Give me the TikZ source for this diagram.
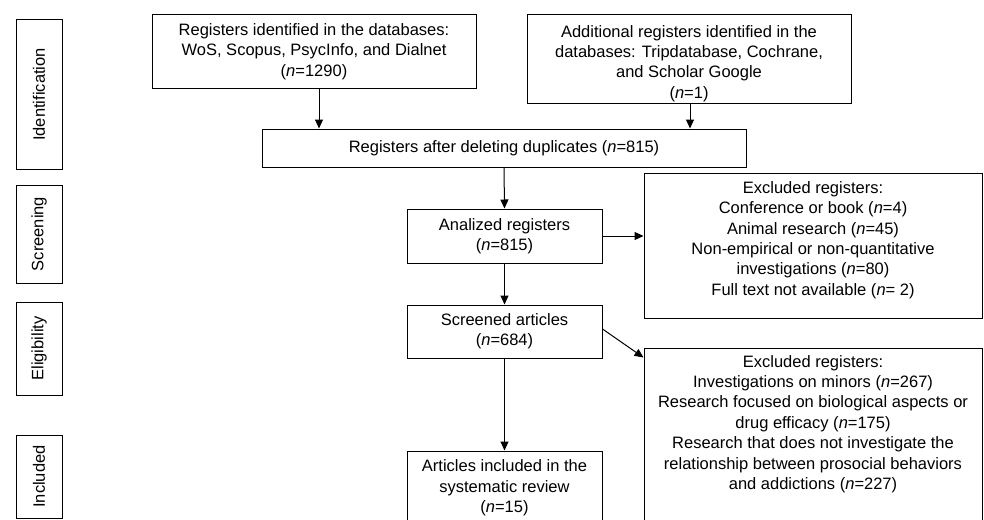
\documentclass[tikz,border=0pt]{standalone}
\usepackage{fontspec}
\setmainfont{Liberation Sans}
\usetikzlibrary{arrows.meta}
\begin{document}
\begin{tikzpicture}[x=1pt,y=-1pt,
  box/.style={draw, line width=1pt, inner sep=0pt, align=center,
    font=\fontsize{16.5}{20.4}\selectfont},
  txt/.style={inner sep=0pt, align=center, font=\fontsize{16.5}{20.4}\selectfont},
  side/.style={draw, line width=1pt, inner sep=0pt, minimum width=46pt,
    font=\fontsize{16.5}{20.4}\selectfont},
  arr/.style={line width=1pt, -{Triangle[length=9pt,width=8pt]}}]
\useasboundingbox (0,0) rectangle (984,519);
\clip (0,0) rectangle (984,519);
% phase labels
\node[side, minimum height=149pt] (id) at (39,94.5) {};
\node[txt, rotate=90] (idt) at (id.center) {Identification};
\node[side, minimum height=98pt] (sc) at (39,234) {};
\node[txt, rotate=90] (sct) at (sc.center) {Screening};
\node[side, minimum height=93pt] (el) at (39,348.5) {};
\node[txt, rotate=90] (elt) at (el.center) {Eligibility};
\node[side, minimum height=83pt] (in) at (39,476.5) {};
\node[txt, rotate=90] (int) at (in.center) {Included};
% boxes
\node[box, minimum width=324pt, minimum height=73pt] (A) at (314,51.5)
  {Registers identified in the databases:\\WoS, Scopus, PsycInfo, and Dialnet\\(\textit{n}=1290)};
\node[box, minimum width=324pt, minimum height=88pt] (B) at (689,59) {};
\node[txt] (Bt) at (689,63.5)
  {Additional registers identified in the\\databases: Tripdatabase, Cochrane,\\and Scholar Google\\(\textit{n}=1)};
\node[box, minimum width=484pt, minimum height=38pt] (C) at (504,148)
  {Registers after deleting duplicates (\textit{n}=815)};
\node[box, minimum width=195pt, minimum height=54pt] (D) at (504.5,236)
  {Analized registers\\(\textit{n}=815)};
\node[box, minimum width=338pt, minimum height=145pt] (E) at (813,245.5) {};
\node[txt] (Et) at (813,240)
  {Excluded registers:\\Conference or book (\textit{n}=4)\\Animal research (\textit{n}=45)\\Non-empirical or non-quantitative\\investigations (\textit{n}=80)\\Full text not available (\textit{n}= 2)};
\node[box, minimum width=195pt, minimum height=53pt] (F) at (504.5,331.5)
  {Screened articles\\(\textit{n}=684)};
\node[box, minimum width=338pt, minimum height=192pt] (G) at (813,444) {};
\node[txt] (Gt) at (813,424)
  {Excluded registers:\\Investigations on minors (\textit{n}=267)\\Research focused on biological aspects or\\drug efficacy (\textit{n}=175)\\Research that does not investigate the\\relationship between prosocial behaviors\\and addictions (\textit{n}=227)};
\node[box, minimum width=195pt, minimum height=89pt] (H) at (504.5,495.5) {};
\node[txt] (Ht) at (504.5,488)
  {Articles included in the\\systematic review\\(\textit{n}=15)};
% arrows
\draw[arr] ([xshift=5pt]A.south) -- ([xshift=5pt]A.south |- C.north);
\draw[arr] ([xshift=1pt]B.south) -- ([xshift=1pt]B.south |- C.north);
\draw[arr] (C.south) -- (D.north);
\draw[arr] (D.east) -- (D.east -| E.west);
\draw[arr] (D.south) -- (F.north);
\draw[arr] (F.south) -- (H.north);
\draw[arr] ([yshift=2.5pt]F.east) -- ([yshift=-10pt]G.north west);
\end{tikzpicture}
\end{document}
